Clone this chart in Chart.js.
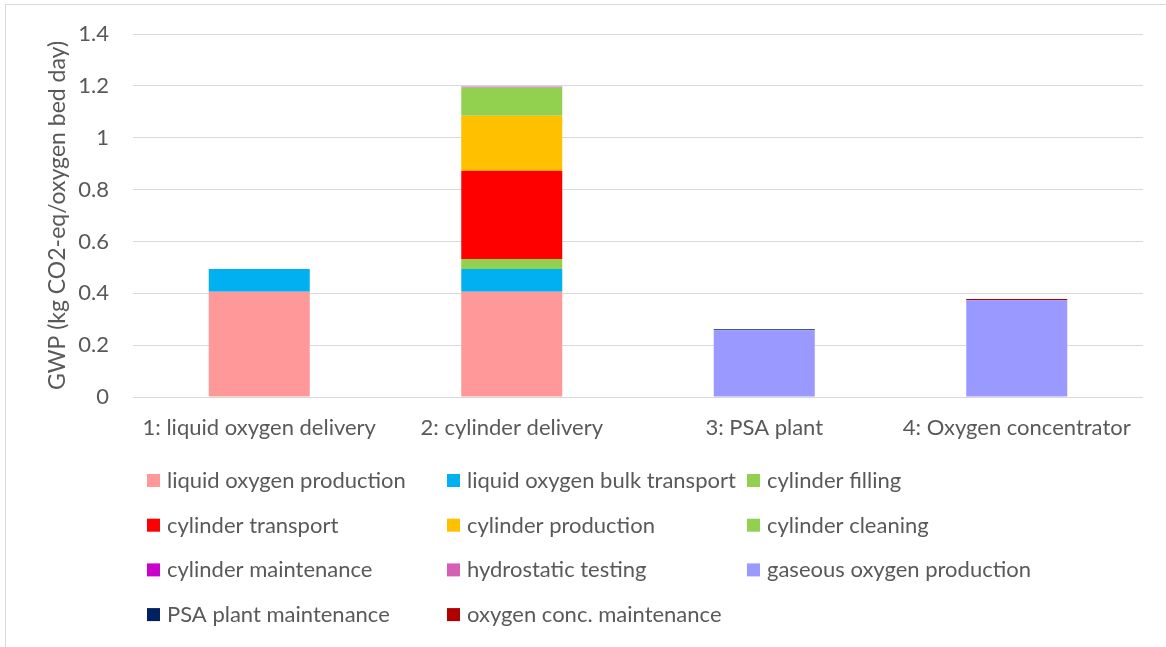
<!DOCTYPE html>
<html>
<head>
<meta charset="utf-8">
<script src="https://cdn.jsdelivr.net/npm/chart.js@4"></script>
<style>
  html, body { margin: 0; padding: 0; background: #fff; overflow: hidden; }
  #frame { position: absolute; left: 5px; top: 4px; width: 1300px; height: 800px; border: 1px solid #d9d9d9; }
  #wrap { position: absolute; left: 0; top: 0; width: 1166px; height: 647px; }
</style>
</head>
<body>
<div id="frame"></div>
<div id="wrap"><canvas id="gwpChart" width="1166" height="647"></canvas></div>
<script>
// categories
const scenarios = ["1: liquid oxygen delivery", "2: cylinder delivery", "3: PSA plant", "4: Oxygen concentrator"];

// series values (kg CO2-eq / oxygen bed day), bottom to top of each stack
const liquidProduction   = [0.406, 0.406, 0, 0];
const liquidBulkTransport = [0.088, 0.088, 0, 0];
const cylFilling         = [0, 0.038, 0, 0];
const cylTransport       = [0, 0.341, 0, 0];
const cylProduction      = [0, 0.212, 0, 0];
const cylCleaning        = [0, 0.109, 0, 0];
const cylMaintenance     = [0, 0.001, 0, 0];
const hydroTesting       = [0, 0.003, 0, 0];
const gaseousProduction  = [0, 0, 0.257, 0.373];
const psaMaintenance     = [0, 0, 0.004, 0];
const concMaintenance    = [0, 0, 0, 0.005];

const yTicks = [0, 0.2, 0.4, 0.6, 0.8, 1, 1.2, 1.4];

const FONT = "Lato";
const TXT = "#595959";

const series = [
  ["liquid oxygen production", liquidProduction, "#ff9999"],
  ["liquid oxygen bulk transport", liquidBulkTransport, "#00b0f0"],
  ["cylinder filling", cylFilling, "#92d050"],
  ["cylinder transport", cylTransport, "#ff0000"],
  ["cylinder production", cylProduction, "#ffc000"],
  ["cylinder cleaning", cylCleaning, "#92d050"],
  ["cylinder maintenance", cylMaintenance, "#cc00cc"],
  ["hydrostatic testing", hydroTesting, "#d55fb5"],
  ["gaseous oxygen production", gaseousProduction, "#9999ff"],
  ["PSA plant maintenance", psaMaintenance, "#002060"],
  ["oxygen conc. maintenance", concMaintenance, "#b00000"]
];

// legend laid out as a 3 column grid, like the office chart
const gridLegend = {
  id: "gridLegend",
  afterDraw(chart) {
    const ctx = chart.ctx;
    ctx.save();
    ctx.font = "22px " + FONT;
    ctx.textBaseline = "middle";
    chart.data.datasets.forEach((ds, i) => {
      const col = i % 3, row = Math.floor(i / 3);
      const x = 147 + col * 300;
      const y = 481 + row * 44.7;
      ctx.fillStyle = ds.backgroundColor;
      ctx.fillRect(x, y - 7, 13, 13);
      ctx.fillStyle = TXT;
      ctx.fillText(ds.label, x + 20, y);
    });
    ctx.restore();
  }
};

new Chart(document.getElementById("gwpChart"), {
  type: "bar",
  data: {
    labels: scenarios,
    datasets: series.map(s => ({
      label: s[0],
      data: s[1],
      backgroundColor: s[2],
      borderWidth: 0,
      barPercentage: 0.4,
      categoryPercentage: 1
    }))
  },
  options: {
    responsive: false,
    animation: false,
    layout: { padding: { left: 0, top: 34, right: 23, bottom: 200 } },
    plugins: { legend: { display: false }, tooltip: { enabled: false } },
    scales: {
      x: {
        stacked: true,
        grid: { display: false },
        border: { display: false },
        ticks: { color: TXT, font: { family: FONT, size: 22 }, padding: 10, maxRotation: 0 },
        afterFit(scale) { scale.height = 50; }
      },
      y: {
        stacked: true,
        min: 0,
        max: 1.4,
        afterBuildTicks(scale) { scale.ticks = yTicks.map(v => ({ value: v })); },
        grid: { color: "#d9d9d9", drawTicks: false, lineWidth: 1 },
        border: { display: false },
        ticks: {
          color: TXT,
          font: { family: FONT, size: 22 },
          padding: 24,
          callback: v => String(parseFloat(v.toFixed(1)))
        },
        title: {
          display: true,
          text: "GWP (kg CO2-eq/oxygen bed day)",
          color: TXT,
          font: { family: FONT, size: 23 },
          padding: { top: 44, bottom: 0 }
        },
        afterFit(scale) {
          scale.width = 133;
          scale.paddingTop = 0;
          scale.paddingBottom = 0;
        }
      }
    }
  },
  plugins: [gridLegend]
});
</script>
</body>
</html>
